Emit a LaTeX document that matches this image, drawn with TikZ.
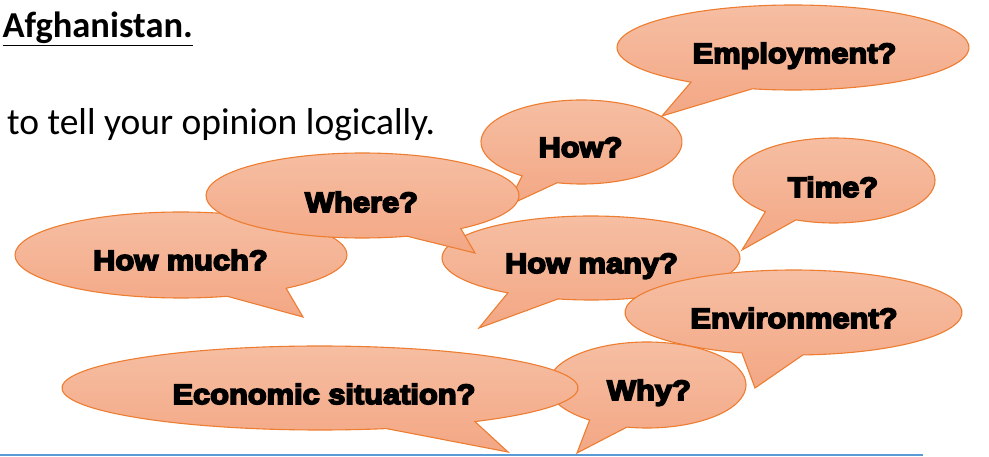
\documentclass[tikz,border=0pt]{standalone}
\usepackage{fontspec}
\setmainfont{Carlito}
\newfontfamily\bubblefont{Liberation Sans Bold}[FakeStretch=1.1,FakeBold=6]
\definecolor{bubbleline}{RGB}{237,125,49}
\definecolor{bubbletop}{RGB}{246,191,164}
\definecolor{bubblebot}{RGB}{243,167,132}
\definecolor{ruleblue}{RGB}{91,155,213}
\tikzset{
  bubblestyle/.style={draw=bubbleline, line width=1.1pt, top color=bubbletop, bottom color=bubblebot, line join=miter},
  lbl/.style={anchor=base, inner sep=0pt, font=\bubblefont\fontsize{28}{30}\selectfont},
}
% bubble path: cx, cy, rx, ry, start angle, end angle, tipx, tipy (pixel units, y downwards)
\newcommand\speechbubble[8]{%
  \path[bubblestyle] (#1,-#2) ++(#5:#3pt and #4pt)
    arc[start angle=#5, end angle=#6, x radius=#3pt, y radius=#4pt] -- (#7,-#8) -- cycle;}
\begin{document}
\begin{tikzpicture}[x=1pt,y=1pt]
\useasboundingbox (0,0) rectangle (989,-457);
% title lines
\node[anchor=base east, inner sep=0pt] (title) at (193,-38) {\fontsize{36.5}{42}\selectfont\bfseries\underline{Afghanistan.}};
\node[anchor=base west, inner sep=0pt] (task) at (7,-135) {\fontsize{37.5}{42}\selectfont to tell your opinion logically.};
% bubbles, back to front
\speechbubble{181}{255}{166}{43}{309.3}{646.2}{303}{317}
\node[lbl] (howmuch) at (180.5,-270) {How much?};
\speechbubble{581.5}{142}{100.5}{42}{256}{593.8}{507}{206}
\node[lbl] (how) at (580.5,-157) {How?};
\speechbubble{591}{258}{149}{42}{257.2}{596.1}{479}{328}
\node[lbl] (howmany) at (591.5,-273) {How many?};
\speechbubble{362.5}{195.5}{156.5}{42.5}{308.9}{646.6}{475}{253}
\node[lbl] (where) at (361.5,-212) {Where?};
\speechbubble{793}{47.5}{176}{42.5}{256.6}{594.6}{662}{116}
\node[lbl] (employ) at (794.5,-63) {Employment?};
\speechbubble{834}{180.5}{101}{42.5}{247.9}{587.2}{742}{250}
\node[lbl] (time) at (833,-197) {Time?};
\speechbubble{793.5}{312.5}{168.5}{42.5}{273.2}{612.2}{755}{388}
\node[lbl] (environ) at (794,-328) {Environment?};
\speechbubble{647}{385}{99}{43}{258.3}{594.6}{577}{453}
\node[lbl] (why) at (649,-400) {Why?};
\speechbubble{320}{388}{258}{42}{306.9}{644.9}{508}{452}
\node[lbl] (econ) at (324,-404) {Economic situation?};
% bottom rule
\coordinate (ruleL) at (0,-455);
\coordinate (ruleR) at (923,-455);
\draw[ruleblue, line width=2.5pt] (ruleL) -- (ruleR);
\end{tikzpicture}
\end{document}
